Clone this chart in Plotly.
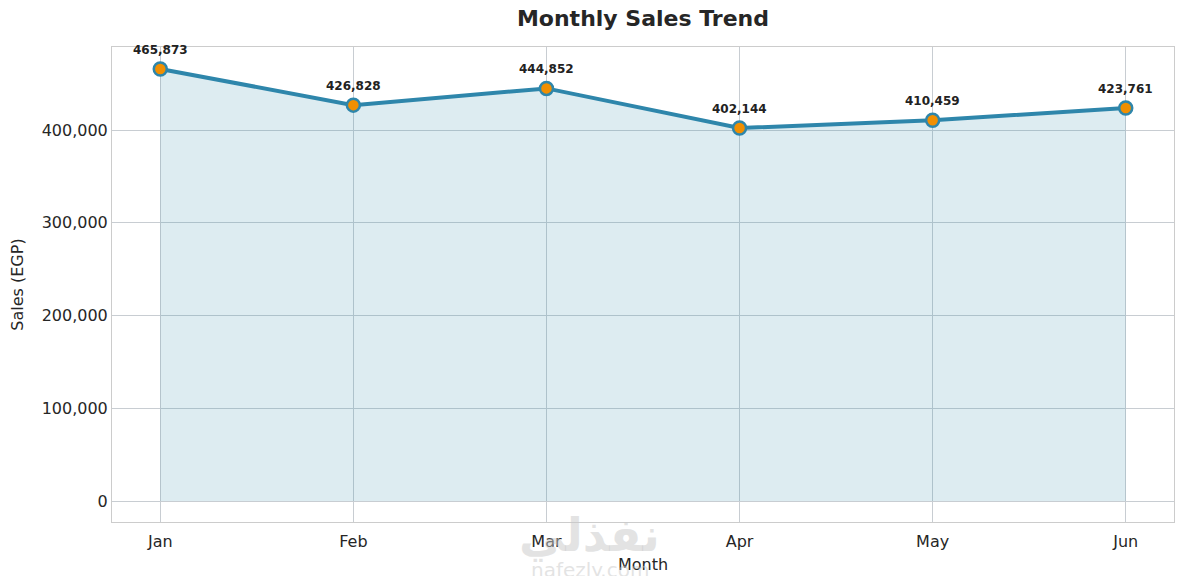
import plotly.graph_objects as go

months = ["Jan", "Feb", "Mar", "Apr", "May", "Jun"]
sales = [465873, 426828, 444852, 402144, 410459, 423761]
y_ticks = [0, 100000, 200000, 300000, 400000]

fig = go.Figure()

fig.add_trace(go.Scatter(
    x=list(range(len(months))),
    y=sales,
    mode="lines+markers",
    fill="tozeroy",
    fillcolor="rgba(46,134,171,0.16)",
    line=dict(color="#2E86AB", width=4),
    marker=dict(size=13, color="#F18F01", line=dict(color="#2E86AB", width=2.5)),
    showlegend=False,
))

for i, v in enumerate(sales):
    fig.add_annotation(
        x=i, y=v, text="<b>{:,}</b>".format(v), showarrow=False,
        yshift=19, font=dict(size=12, color="#222222"),
    )

# faint site watermark
fig.add_annotation(x=0.45, y=-0.027, xref="paper", yref="paper", text="<b>نفذلي</b>",
                   showarrow=False, font=dict(size=46, color="rgba(200,200,200,0.5)"),
                   yanchor="middle")
fig.add_annotation(x=0.45, y=-0.1, xref="paper", yref="paper", text="nafezly.com",
                   showarrow=False, font=dict(size=20, color="rgba(200,200,200,0.5)"),
                   yanchor="middle")

axis_common = dict(
    showgrid=True, gridcolor="#c8cdd2", gridwidth=1,
    showline=True, linecolor="#cccccc", linewidth=1, mirror=True,
    zeroline=False, ticks="", tickfont=dict(size=16, color="#262626"),
)

# page has an 8px body margin, so the figure is sized 1168x568
fig.update_layout(
    width=1168, height=568,
    margin=dict(l=104, r=2, t=39, b=54),
    paper_bgcolor="white", plot_bgcolor="white",
    font=dict(family="DejaVu Sans", color="#262626"),
    title=dict(text="<b>Monthly Sales Trend</b>", xref="paper", x=0.5, xanchor="center",
               y=0.982, yanchor="middle", font=dict(size=22, color="#262626")),
    xaxis=dict(
        axis_common,
        range=[-0.25, 5.25],
        tickmode="array", tickvals=list(range(len(months))), ticktext=months,
        ticklabelstandoff=5,
        title=dict(text="Month", font=dict(size=16), standoff=8),
    ),
    yaxis=dict(
        axis_common,
        range=[-22600, 489500],
        tickmode="array", tickvals=y_ticks,
        ticktext=["{:,}".format(t) for t in y_ticks],
        title=dict(text="Sales (EGP)", font=dict(size=16), standoff=14),
    ),
)

fig.write_html("out.html")
